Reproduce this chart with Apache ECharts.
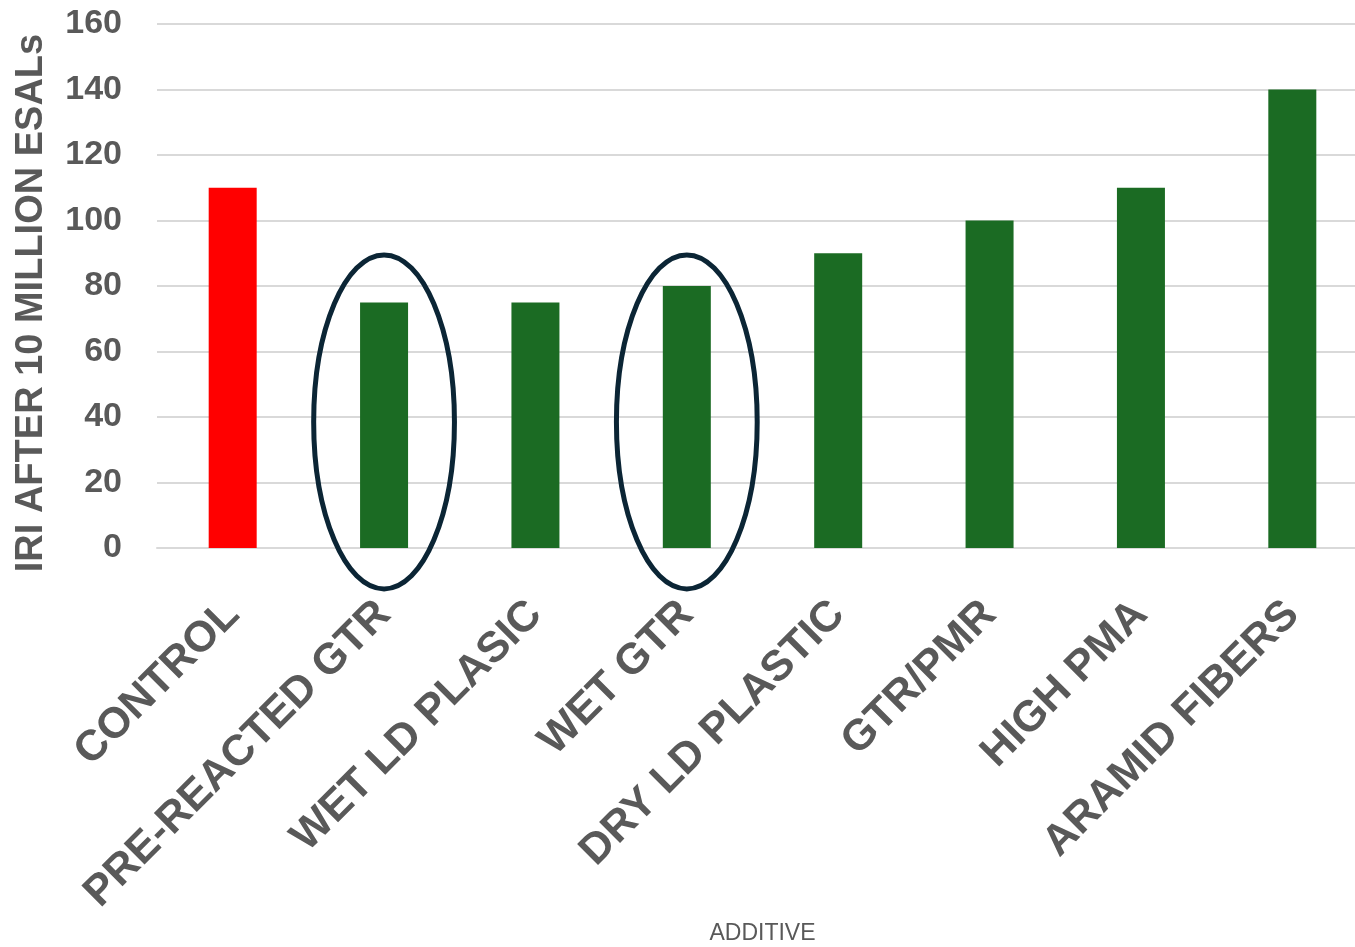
<!DOCTYPE html>
<html>
<head>
<meta charset="utf-8">
<script src="https://cdn.jsdelivr.net/npm/echarts@6/dist/echarts.min.js"></script>
<style>
  html, body { margin: 0; padding: 0; background: #fff; }
  #main { width: 1355px; height: 947px; }
</style>
</head>
<body>
<div id="main"></div>
<script>
// 数据
var additives = ['CONTROL', 'PRE-REACTED GTR', 'WET LD PLASIC', 'WET GTR', 'DRY LD PLASTIC', 'GTR/PMR', 'HIGH PMA', 'ARAMID FIBERS'];
var iriValues = [110, 75, 75, 80, 90, 100, 110, 140];
var barColors = ['#FF0000', '#1B6B23', '#1B6B23', '#1B6B23', '#1B6B23', '#1B6B23', '#1B6B23', '#1B6B23'];
var yTicks = [0, 20, 40, 60, 80, 100, 120, 140, 160];
// circled categories (annotation)
var circled = ['PRE-REACTED GTR', 'WET GTR'];

var labelColor = '#595959';
var font = 'Liberation Sans, Arial, sans-serif';

var myChart = echarts.init(document.getElementById('main'));

var option = {
	animation: false,
	grid: {
		left: 157,
		right: -13,
		top: 24,
		bottom: 399,
		outerBoundsMode: 'none',
		containLabel: false
	},
	xAxis: {
		type: 'category',
		data: additives,
		name: 'ADDITIVE',
		nameLocation: 'middle',
		nameGap: 373,
		nameTextStyle: {
			color: labelColor,
			fontSize: 23,
			fontFamily: font
		},
		axisLine: { show: true, lineStyle: { color: '#D9D9D9', width: 2 } },
		axisTick: { show: false },
		axisLabel: {
			rotate: 45,
			interval: 0,
			margin: 60,
			color: labelColor,
			fontSize: 43,
			fontWeight: 'bold',
			fontFamily: font
		}
	},
	yAxis: {
		type: 'value',
		min: yTicks[0],
		max: yTicks[yTicks.length - 1],
		interval: yTicks[1] - yTicks[0],
		name: 'IRI AFTER 10 MILLION ESALs',
		nameLocation: 'middle',
		nameGap: 106,
		nameTextStyle: {
			color: labelColor,
			fontSize: 38,
			fontWeight: 'bold',
			fontFamily: font,
			padding: [0, 34, 0, 0]
		},
		axisLine: { show: false },
		axisTick: { show: false },
		axisLabel: {
			margin: 35,
			color: labelColor,
			fontSize: 34,
			fontWeight: 'bold',
			fontFamily: font
		},
		splitLine: { lineStyle: { color: '#D9D9D9', width: 2 } }
	},
	series: [{
		type: 'bar',
		barWidth: 48,
		data: iriValues.map(function (v, i) {
			return { value: v, itemStyle: { color: barColors[i] } };
		})
	}]
};

myChart.setOption(option);

// 椭圆标注，位置由坐标轴换算
var ellipses = circled.map(function (name) {
	var idx = additives.indexOf(name);
	var c = myChart.convertToPixel({ gridIndex: 0 }, [name, 38.5]);
	var top = myChart.convertToPixel({ gridIndex: 0 }, [name, 89.5]);
	var next = myChart.convertToPixel({ gridIndex: 0 }, [additives[idx + 1], 0]);
	return {
		type: 'ellipse',
		shape: { cx: c[0], cy: c[1], rx: (next[0] - c[0]) * 0.465, ry: c[1] - top[1] },
		style: { fill: 'none', stroke: '#0B2535', lineWidth: 5 },
		z: 10
	};
});
myChart.setOption({ graphic: ellipses });
</script>
</body>
</html>
